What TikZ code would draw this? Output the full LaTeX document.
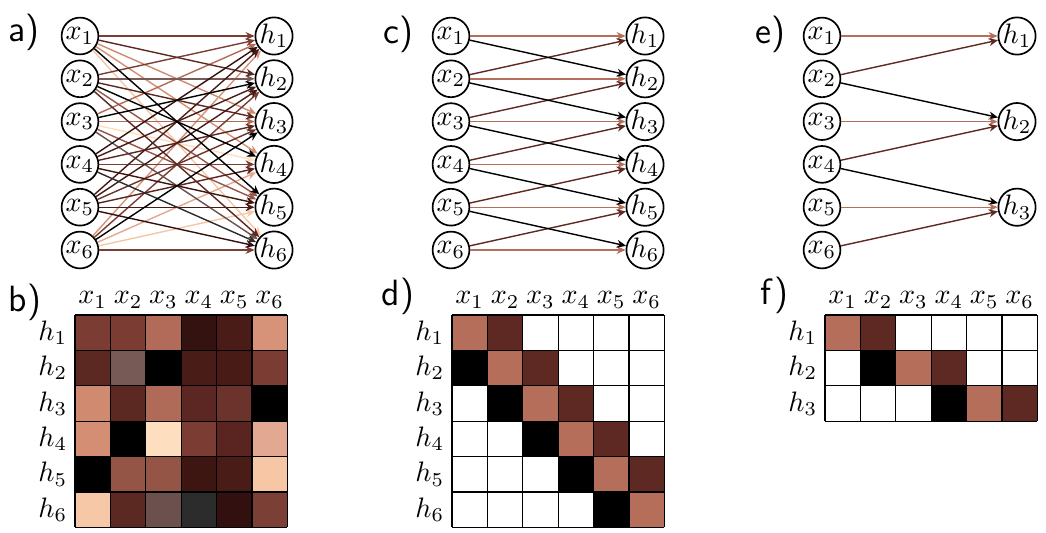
\documentclass[tikz,border=0pt]{standalone}
\usepackage{tikz,amsmath}
\usetikzlibrary{arrows.meta}

% weights of the dense layer, w<h><x>
\definecolor{w11}{HTML}{7B3C33}\definecolor{w12}{HTML}{7B3D33}\definecolor{w13}{HTML}{B16B58}
\definecolor{w14}{HTML}{331210}\definecolor{w15}{HTML}{4A1C18}\definecolor{w16}{HTML}{D7937A}
\definecolor{w21}{HTML}{5C2822}\definecolor{w22}{HTML}{775A56}\definecolor{w23}{HTML}{000000}
\definecolor{w24}{HTML}{4A1C18}\definecolor{w25}{HTML}{481B17}\definecolor{w26}{HTML}{7B3C33}
\definecolor{w31}{HTML}{CF8A70}\definecolor{w32}{HTML}{5C2822}\definecolor{w33}{HTML}{B06A58}
\definecolor{w34}{HTML}{5C2722}\definecolor{w35}{HTML}{6B332C}\definecolor{w36}{HTML}{000000}
\definecolor{w41}{HTML}{D48E73}\definecolor{w42}{HTML}{000000}\definecolor{w43}{HTML}{FDDFC0}
\definecolor{w44}{HTML}{7B3D33}\definecolor{w45}{HTML}{5A2520}\definecolor{w46}{HTML}{E2A891}
\definecolor{w51}{HTML}{000000}\definecolor{w52}{HTML}{955546}\definecolor{w53}{HTML}{955546}
\definecolor{w54}{HTML}{3D1511}\definecolor{w55}{HTML}{4A1C18}\definecolor{w56}{HTML}{F6C6A5}
\definecolor{w61}{HTML}{F6C8A8}\definecolor{w62}{HTML}{5C2822}\definecolor{w63}{HTML}{6B504D}
\definecolor{w64}{HTML}{2C2C2C}\definecolor{w65}{HTML}{331010}\definecolor{w66}{HTML}{7B3F35}
% shared kernel
\definecolor{kmid}{HTML}{B46E5A}
\definecolor{knext}{HTML}{5E2923}

\begin{document}
\begin{tikzpicture}[x=.125mm,y=-.125mm,line width=.5pt,
  unit/.style={circle,draw,line width=.6pt,minimum size=4.6mm,inner sep=0pt,font=\fontsize{10.3}{12}\selectfont},
  conn/.style={-{Stealth[length=3.2pt,width=2.8pt]},line width=.5pt},
  lbl/.style={inner sep=0pt,font=\fontsize{9.6}{11}\selectfont},
  panel/.style={anchor=west,inner sep=0pt,font=\sffamily\fontsize{13}{15}\selectfont},
  cell/.style={line width=.45pt}]
\path[use as bounding box] (0,0) rectangle (1046,532);
% a) dense layer
\node[panel] (pa) at (8,32) {a)};
\node[unit] (ax1) at (80,36) {$x_1$};
\node[unit] (ax2) at (80,78.8) {$x_2$};
\node[unit] (ax3) at (80,121.6) {$x_3$};
\node[unit] (ax4) at (80,164.4) {$x_4$};
\node[unit] (ax5) at (80,207.2) {$x_5$};
\node[unit] (ax6) at (80,250) {$x_6$};
\node[unit] (ah1) at (274,36) {$h_1$};
\node[unit] (ah2) at (274,78.8) {$h_2$};
\node[unit] (ah3) at (274,121.6) {$h_3$};
\node[unit] (ah4) at (274,164.4) {$h_4$};
\node[unit] (ah5) at (274,207.2) {$h_5$};
\node[unit] (ah6) at (274,250) {$h_6$};
\draw[conn,w61] (ax1) -- (ah6);
\draw[conn,w43] (ax3) -- (ah4);
\draw[conn,w56] (ax6) -- (ah5);
\draw[conn,w46] (ax6) -- (ah4);
\draw[conn,w41] (ax1) -- (ah4);
\draw[conn,w31] (ax1) -- (ah3);
\draw[conn,w16] (ax6) -- (ah1);
\draw[conn,w13] (ax3) -- (ah1);
\draw[conn,w33] (ax3) -- (ah3);
\draw[conn,w11] (ax1) -- (ah1);
\draw[conn,w12] (ax2) -- (ah1);
\draw[conn,w52] (ax2) -- (ah5);
\draw[conn,w53] (ax3) -- (ah5);
\draw[conn,w22] (ax2) -- (ah2);
\draw[conn,w26] (ax6) -- (ah2);
\draw[conn,w44] (ax4) -- (ah4);
\draw[conn,w66] (ax6) -- (ah6);
\draw[conn,w63] (ax3) -- (ah6);
\draw[conn,w35] (ax5) -- (ah3);
\draw[conn,w21] (ax1) -- (ah2);
\draw[conn,w32] (ax2) -- (ah3);
\draw[conn,w34] (ax4) -- (ah3);
\draw[conn,w45] (ax5) -- (ah4);
\draw[conn,w62] (ax2) -- (ah6);
\draw[conn,w24] (ax4) -- (ah2);
\draw[conn,w25] (ax5) -- (ah2);
\draw[conn,w15] (ax5) -- (ah1);
\draw[conn,w55] (ax5) -- (ah5);
\draw[conn,w54] (ax4) -- (ah5);
\draw[conn,w14] (ax4) -- (ah1);
\draw[conn,w65] (ax5) -- (ah6);
\draw[conn,w64] (ax4) -- (ah6);
\draw[conn,w23] (ax3) -- (ah2);
\draw[conn,w36] (ax6) -- (ah3);
\draw[conn,w42] (ax2) -- (ah4);
\draw[conn,w51] (ax1) -- (ah5);
% b) dense weights
\node[panel] (pb) at (8,302) {b)};
\node[lbl] (bx1) at (92.7,300) {$x_1$};
\node[lbl] (bx2) at (128.1,300) {$x_2$};
\node[lbl] (bx3) at (163.5,300) {$x_3$};
\node[lbl] (bx4) at (198.9,300) {$x_4$};
\node[lbl] (bx5) at (234.3,300) {$x_5$};
\node[lbl] (bx6) at (269.7,300) {$x_6$};
\node[lbl,anchor=east] (bh1) at (68,332.7) {$h_1$};
\node[lbl,anchor=east] (bh2) at (68,368.1) {$h_2$};
\node[lbl,anchor=east] (bh3) at (68,403.5) {$h_3$};
\node[lbl,anchor=east] (bh4) at (68,438.9) {$h_4$};
\node[lbl,anchor=east] (bh5) at (68,474.3) {$h_5$};
\node[lbl,anchor=east] (bh6) at (68,509.7) {$h_6$};
\fill[w11] (75,315) rectangle (110.4,350.4);
\fill[w12] (110.4,315) rectangle (145.8,350.4);
\fill[w13] (145.8,315) rectangle (181.2,350.4);
\fill[w14] (181.2,315) rectangle (216.6,350.4);
\fill[w15] (216.6,315) rectangle (252,350.4);
\fill[w16] (252,315) rectangle (287.4,350.4);
\fill[w21] (75,350.4) rectangle (110.4,385.8);
\fill[w22] (110.4,350.4) rectangle (145.8,385.8);
\fill[w23] (145.8,350.4) rectangle (181.2,385.8);
\fill[w24] (181.2,350.4) rectangle (216.6,385.8);
\fill[w25] (216.6,350.4) rectangle (252,385.8);
\fill[w26] (252,350.4) rectangle (287.4,385.8);
\fill[w31] (75,385.8) rectangle (110.4,421.2);
\fill[w32] (110.4,385.8) rectangle (145.8,421.2);
\fill[w33] (145.8,385.8) rectangle (181.2,421.2);
\fill[w34] (181.2,385.8) rectangle (216.6,421.2);
\fill[w35] (216.6,385.8) rectangle (252,421.2);
\fill[w36] (252,385.8) rectangle (287.4,421.2);
\fill[w41] (75,421.2) rectangle (110.4,456.6);
\fill[w42] (110.4,421.2) rectangle (145.8,456.6);
\fill[w43] (145.8,421.2) rectangle (181.2,456.6);
\fill[w44] (181.2,421.2) rectangle (216.6,456.6);
\fill[w45] (216.6,421.2) rectangle (252,456.6);
\fill[w46] (252,421.2) rectangle (287.4,456.6);
\fill[w51] (75,456.6) rectangle (110.4,492);
\fill[w52] (110.4,456.6) rectangle (145.8,492);
\fill[w53] (145.8,456.6) rectangle (181.2,492);
\fill[w54] (181.2,456.6) rectangle (216.6,492);
\fill[w55] (216.6,456.6) rectangle (252,492);
\fill[w56] (252,456.6) rectangle (287.4,492);
\fill[w61] (75,492) rectangle (110.4,527.4);
\fill[w62] (110.4,492) rectangle (145.8,527.4);
\fill[w63] (145.8,492) rectangle (181.2,527.4);
\fill[w64] (181.2,492) rectangle (216.6,527.4);
\fill[w65] (216.6,492) rectangle (252,527.4);
\fill[w66] (252,492) rectangle (287.4,527.4);
\draw[cell] (75,315) -- (75,527.4);
\draw[cell] (110.4,315) -- (110.4,527.4);
\draw[cell] (145.8,315) -- (145.8,527.4);
\draw[cell] (181.2,315) -- (181.2,527.4);
\draw[cell] (216.6,315) -- (216.6,527.4);
\draw[cell] (252,315) -- (252,527.4);
\draw[cell] (287.4,315) -- (287.4,527.4);
\draw[cell] (75,315) -- (287.4,315);
\draw[cell] (75,350.4) -- (287.4,350.4);
\draw[cell] (75,385.8) -- (287.4,385.8);
\draw[cell] (75,421.2) -- (287.4,421.2);
\draw[cell] (75,456.6) -- (287.4,456.6);
\draw[cell] (75,492) -- (287.4,492);
\draw[cell] (75,527.4) -- (287.4,527.4);
% c) convolution
\node[panel] (pc) at (383,34) {c)};
\node[unit] (cx1) at (451,36) {$x_1$};
\node[unit] (cx2) at (451,78.8) {$x_2$};
\node[unit] (cx3) at (451,121.6) {$x_3$};
\node[unit] (cx4) at (451,164.4) {$x_4$};
\node[unit] (cx5) at (451,207.2) {$x_5$};
\node[unit] (cx6) at (451,250) {$x_6$};
\node[unit] (ch1) at (645,36) {$h_1$};
\node[unit] (ch2) at (645,78.8) {$h_2$};
\node[unit] (ch3) at (645,121.6) {$h_3$};
\node[unit] (ch4) at (645,164.4) {$h_4$};
\node[unit] (ch5) at (645,207.2) {$h_5$};
\node[unit] (ch6) at (645,250) {$h_6$};
\draw[conn,kmid] (cx1) -- (ch1);
\draw[conn,kmid] (cx2) -- (ch2);
\draw[conn,kmid] (cx3) -- (ch3);
\draw[conn,kmid] (cx4) -- (ch4);
\draw[conn,kmid] (cx5) -- (ch5);
\draw[conn,kmid] (cx6) -- (ch6);
\draw[conn,knext] (cx2) -- (ch1);
\draw[conn,knext] (cx3) -- (ch2);
\draw[conn,knext] (cx4) -- (ch3);
\draw[conn,knext] (cx5) -- (ch4);
\draw[conn,knext] (cx6) -- (ch5);
\draw[conn,black] (cx1) -- (ch2);
\draw[conn,black] (cx2) -- (ch3);
\draw[conn,black] (cx3) -- (ch4);
\draw[conn,black] (cx4) -- (ch5);
\draw[conn,black] (cx5) -- (ch6);
% d) convolution weights
\node[panel] (pd) at (381,296) {d)};
\node[lbl] (dx1) at (469.7,300) {$x_1$};
\node[lbl] (dx2) at (505.1,300) {$x_2$};
\node[lbl] (dx3) at (540.5,300) {$x_3$};
\node[lbl] (dx4) at (575.9,300) {$x_4$};
\node[lbl] (dx5) at (611.3,300) {$x_5$};
\node[lbl] (dx6) at (646.7,300) {$x_6$};
\node[lbl,anchor=east] (dh1) at (445,332.7) {$h_1$};
\node[lbl,anchor=east] (dh2) at (445,368.1) {$h_2$};
\node[lbl,anchor=east] (dh3) at (445,403.5) {$h_3$};
\node[lbl,anchor=east] (dh4) at (445,438.9) {$h_4$};
\node[lbl,anchor=east] (dh5) at (445,474.3) {$h_5$};
\node[lbl,anchor=east] (dh6) at (445,509.7) {$h_6$};
\fill[kmid] (452,315) rectangle (487.4,350.4);
\fill[knext] (487.4,315) rectangle (522.8,350.4);
\fill[black] (452,350.4) rectangle (487.4,385.8);
\fill[kmid] (487.4,350.4) rectangle (522.8,385.8);
\fill[knext] (522.8,350.4) rectangle (558.2,385.8);
\fill[black] (487.4,385.8) rectangle (522.8,421.2);
\fill[kmid] (522.8,385.8) rectangle (558.2,421.2);
\fill[knext] (558.2,385.8) rectangle (593.6,421.2);
\fill[black] (522.8,421.2) rectangle (558.2,456.6);
\fill[kmid] (558.2,421.2) rectangle (593.6,456.6);
\fill[knext] (593.6,421.2) rectangle (629,456.6);
\fill[black] (558.2,456.6) rectangle (593.6,492);
\fill[kmid] (593.6,456.6) rectangle (629,492);
\fill[knext] (629,456.6) rectangle (664.4,492);
\fill[black] (593.6,492) rectangle (629,527.4);
\fill[kmid] (629,492) rectangle (664.4,527.4);
\draw[cell] (452,315) -- (452,527.4);
\draw[cell] (487.4,315) -- (487.4,527.4);
\draw[cell] (522.8,315) -- (522.8,527.4);
\draw[cell] (558.2,315) -- (558.2,527.4);
\draw[cell] (593.6,315) -- (593.6,527.4);
\draw[cell] (629,315) -- (629,527.4);
\draw[cell] (664.4,315) -- (664.4,527.4);
\draw[cell] (452,315) -- (664.4,315);
\draw[cell] (452,350.4) -- (664.4,350.4);
\draw[cell] (452,385.8) -- (664.4,385.8);
\draw[cell] (452,421.2) -- (664.4,421.2);
\draw[cell] (452,456.6) -- (664.4,456.6);
\draw[cell] (452,492) -- (664.4,492);
\draw[cell] (452,527.4) -- (664.4,527.4);
% e) strided convolution
\node[panel] (pe) at (755,34) {e)};
\node[unit] (ex1) at (822,36) {$x_1$};
\node[unit] (ex2) at (822,78.8) {$x_2$};
\node[unit] (ex3) at (822,121.6) {$x_3$};
\node[unit] (ex4) at (822,164.4) {$x_4$};
\node[unit] (ex5) at (822,207.2) {$x_5$};
\node[unit] (ex6) at (822,250) {$x_6$};
\node[unit] (eh1) at (1017,36) {$h_1$};
\node[unit] (eh2) at (1017,121.6) {$h_2$};
\node[unit] (eh3) at (1017,207.2) {$h_3$};
\draw[conn,kmid] (ex1) -- (eh1);
\draw[conn,knext] (ex2) -- (eh1);
\draw[conn,black] (ex2) -- (eh2);
\draw[conn,kmid] (ex3) -- (eh2);
\draw[conn,knext] (ex4) -- (eh2);
\draw[conn,black] (ex4) -- (eh3);
\draw[conn,kmid] (ex5) -- (eh3);
\draw[conn,knext] (ex6) -- (eh3);
% f) strided weights
\node[panel] (pf) at (760,295) {f)};
\node[lbl] (fx1) at (842.7,300) {$x_1$};
\node[lbl] (fx2) at (878.1,300) {$x_2$};
\node[lbl] (fx3) at (913.5,300) {$x_3$};
\node[lbl] (fx4) at (948.9,300) {$x_4$};
\node[lbl] (fx5) at (984.3,300) {$x_5$};
\node[lbl] (fx6) at (1019.7,300) {$x_6$};
\node[lbl,anchor=east] (fh1) at (818,332.7) {$h_1$};
\node[lbl,anchor=east] (fh2) at (818,368.1) {$h_2$};
\node[lbl,anchor=east] (fh3) at (818,403.5) {$h_3$};
\fill[kmid] (825,315) rectangle (860.4,350.4);
\fill[knext] (860.4,315) rectangle (895.8,350.4);
\fill[black] (860.4,350.4) rectangle (895.8,385.8);
\fill[kmid] (895.8,350.4) rectangle (931.2,385.8);
\fill[knext] (931.2,350.4) rectangle (966.6,385.8);
\fill[black] (931.2,385.8) rectangle (966.6,421.2);
\fill[kmid] (966.6,385.8) rectangle (1002,421.2);
\fill[knext] (1002,385.8) rectangle (1037.4,421.2);
\draw[cell] (825,315) -- (825,421.2);
\draw[cell] (860.4,315) -- (860.4,421.2);
\draw[cell] (895.8,315) -- (895.8,421.2);
\draw[cell] (931.2,315) -- (931.2,421.2);
\draw[cell] (966.6,315) -- (966.6,421.2);
\draw[cell] (1002,315) -- (1002,421.2);
\draw[cell] (1037.4,315) -- (1037.4,421.2);
\draw[cell] (825,315) -- (1037.4,315);
\draw[cell] (825,350.4) -- (1037.4,350.4);
\draw[cell] (825,385.8) -- (1037.4,385.8);
\draw[cell] (825,421.2) -- (1037.4,421.2);
\end{tikzpicture}
\end{document}
